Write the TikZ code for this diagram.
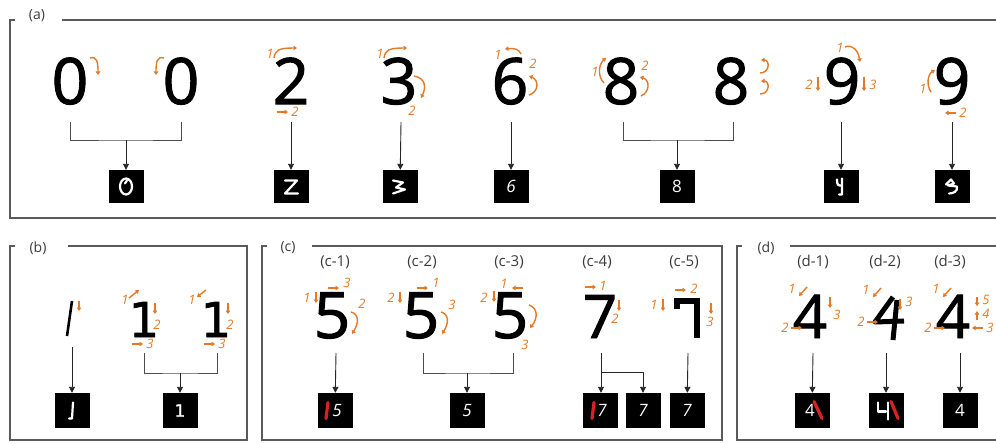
\documentclass[tikz,border=0pt]{standalone}
\usepackage{fontspec}
\setmainfont{Open Sans}
\newfontfamily\bigf{Open Sans}[FakeBold=1.6]
\newfontfamily\dejavu{DejaVu Sans}[FakeBold=1.2]
\usetikzlibrary{arrows.meta}
\definecolor{orc}{RGB}{228,122,40}
\definecolor{frm}{RGB}{90,90,90}
\definecolor{lbl}{RGB}{60,60,60}
\definecolor{hwred}{RGB}{215,35,35}
\begin{document}
\begin{tikzpicture}[x=1pt,y=-1pt,
 pframe/.style={draw=frm,line width=1.1pt},
 plab/.style={text=lbl,font=\fontsize{14}{14}\selectfont,inner sep=0},
 sublab/.style={text=lbl,font=\fontsize{15}{15}\selectfont,inner sep=0},
 big/.style={font=\bigf\fontsize{64}{64}\selectfont,anchor=base,inner sep=0,text height=44pt,text depth=0pt},
 conn/.style={draw=black!85,line width=0.9pt,-{Triangle[length=6pt,width=6pt]}},
 brk/.style={draw=black!70,line width=0.9pt},
 abox/.style={fill=black,minimum width=35pt,minimum height=33pt,inner sep=0,text=white,font=\fontsize{17}{17}\selectfont},
 lbox/.style={abox,minimum height=35pt},
 oa/.style={draw=orc,line width=1.4pt,-{Triangle[length=3.5pt,width=4.5pt]}},
 onum/.style={text=orc,font=\itshape\fontsize{13}{13}\selectfont,inner sep=0,text height=9pt,text depth=0pt},
 hw/.style={draw=white,line width=2.2pt,line cap=round,line join=round},
 rd/.style={draw=hwred,line width=3.2pt,line cap=round},
]
\useasboundingbox[fill=white] (0,0) rectangle (996,444);

% ---------- frames ----------
\draw[pframe] (15,20) -- (10,20) -- (10,218) -- (996,218);
\draw[pframe] (62,20) -- (996,20);
\node[plab] (la) at (37,16) {(a)};
\draw[pframe] (15,246) -- (10,246) -- (10,440) -- (247,440) -- (247,246) -- (68,246);
\node[plab] (lb) at (38,248) {(b)};
\draw[pframe] (267,246) -- (262,246) -- (262,440) -- (722,440) -- (722,246) -- (312,246);
\node[plab] (lc) at (288,248) {(c)};
\draw[pframe] (742,246) -- (737,246) -- (737,440) -- (996,440);
\draw[pframe] (790,246) -- (996,246);
\node[plab] (ld) at (766,248) {(d)};

% ---------- panel (a) ----------
\node[big] (d0a) at (70,104) {0};
\node[big] (d0b) at (181,104) {0};
\node[big] (d2) at (291,104) {2};
\node[big] (d3) at (399,104) {3};
\node[big] (d6) at (510,104) {6};
\node[big] (d8a) at (621,104) {8};
\node[big] (d8b) at (731,104) {8};
\node[big] (d9a) at (842,104) {9};
\node[big] (d9b) at (952,104) {9};

\node[abox] (b0) at (126,186.5) {};
\node[abox] (b2) at (291,186.5) {};
\node[abox] (b3) at (400,186.5) {};
\node[abox] (b6) at (511,186.5) {\itshape 6};
\node[abox] (b8) at (677,186.5) {8};
\node[abox] (b9a) at (841,186.5) {};
\node[abox] (b9b) at (952,186.5) {};
\draw[hw] (b0.center) ellipse [x radius=6, y radius=8];
\draw[hw] ([shift={(-1,-3)}]b0.center) -- ++(2,-3);
\draw[hw] ([shift={(-6,-6)}]b2.center) -- ++(12,0) -- ++(-12,13) -- ++(13,0);
\draw[hw] ([shift={(-7,-6)}]b3.center) -- ++(10,2) -- ++(-7,5) -- ++(9,2) -- ++(-12,4);
\draw[hw] ([shift={(-4,-7)}]b9a.center) .. controls ++(0,6) and ++(-4,0) .. ++(5,6) -- ++(0,-7) -- ++(0,16) -- ++(-3,0);
\draw[hw] ([shift={(-6,-2)}]b9b.center) -- ++(5,-5) -- ++(3,4) -- ++(-6,2) -- ++(9,1) .. controls ++(1,5) and ++(4,0) .. ++(-8,7);

\coordinate (j0a) at (70,122); \coordinate (j0b) at (181,122); \coordinate (m0) at (126,140);
\draw[brk] (j0a) |- (m0) -| (j0b);
\draw[conn] (m0) -- (b0);
\coordinate (s2) at (291,122); \draw[conn] (s2) -- (b2);
\coordinate (s3) at (401,122); \draw[conn] (s3) -- (b3);
\coordinate (s6) at (511,122); \draw[conn] (s6) -- (b6);
\coordinate (j8a) at (623,122); \coordinate (j8b) at (733,122); \coordinate (m8) at (677,140);
\draw[brk] (j8a) |- (m8) -| (j8b);
\draw[conn] (m8) -- (b8);
\coordinate (s9a) at (841,122); \draw[conn] (s9a) -- (b9a);
\coordinate (s9b) at (952,122); \draw[conn] (s9b) -- (b9b);

% orange strokes, panel (a)
\draw[oa] (90,58) .. controls (97,56) and (98,62) .. (98,75);
\draw[oa] (164,58) .. controls (157,56) and (156,62) .. (156,75);
\node[onum] (a2a) at (270,54) {1};
\draw[oa] (274,58) .. controls (275,50) and (279,48) .. (297,48);
\draw[oa] (277,112) -- (288,112);
\node[onum] (a2b) at (295,112) {2};
\node[onum] (a3a) at (380,54) {1};
\draw[oa] (384,58) .. controls (385,50) and (389,48) .. (407,48);
\draw[oa] (414,76) .. controls (426,78) and (426,88) .. (421,98);
\node[onum] (a3b) at (412,111) {2};
\node[onum] (a6a) at (498,55) {1};
\draw[oa] (521,54) .. controls (519,49) and (514,48) .. (505,49);
\node[onum] (a6b) at (533,64) {2};
\draw[oa] (529,95) .. controls (539,92) and (539,80) .. (529,76);
\node[onum] (a8a) at (595,72) {1};
\draw[oa] (604,83) .. controls (597,76) and (599,64) .. (606,58);
\node[onum] (a8b) at (645,66) {2};
\draw[oa] (641,96) .. controls (650,92) and (650,80) .. (640,77);
\draw[oa] (760,73) .. controls (770,73) and (770,60) .. (761,60);
\draw[oa] (760,94) .. controls (770,94) and (770,81) .. (761,81);
\node[onum] (a9a) at (840,48) {1};
\draw[oa] (845,47) .. controls (852,44) and (858,50) .. (860,62);
\node[onum] (a9b) at (809,85) {2};
\draw[oa] (818,77) -- (818,91);
\draw[oa] (864,77) -- (864,91);
\node[onum] (a9c) at (873,85) {3};
\node[onum] (a9d) at (923,89) {1};
\draw[oa] (931,92) .. controls (926,85) and (928,74) .. (935,70);
\draw[oa] (956,113) -- (945,113);
\node[onum] (a9e) at (963,113) {2};

% ---------- panel (b) ----------
\draw[line width=2.6pt] (72,301) -- (67,336);
\node[big,font=\dejavu\fontsize{48}{48}\selectfont,text height=35pt] (d1b) at (144,337) {1};
\node[big,font=\dejavu\fontsize{48}{48}\selectfont,text height=35pt] (d1c) at (216,337) {1};
\node[lbox] (bb1) at (72,410.5) {};
\node[lbox,font=\dejavu\fontsize{17}{17}\selectfont] (bb2) at (180,410.5) {1};
\draw[hw] ([shift={(1,-8)}]bb1.center) -- ++(-1,16) -- ++(-3,0);
\coordinate (sb1) at (72,347); \draw[conn] (sb1) -- (bb1);
\coordinate (jb1) at (144,353); \coordinate (jb2) at (217,353); \coordinate (mb) at (180,373);
\draw[brk] (jb1) |- (mb) -| (jb2);
\draw[conn] (mb) -- (bb2);
\draw[oa] (79,301) -- (79,311);
\node[onum] (b1a) at (125,300) {1};
\draw[oa] (129,298) -- (139,290);
\draw[oa] (155,303) -- (155,314);
\node[onum] (b1b) at (157,325) {2};
\draw[oa] (132,344) -- (143,344);
\node[onum] (b1c) at (150,344) {3};
\node[onum] (b1d) at (192,300) {1};
\draw[oa] (206,290) -- (197,297);
\draw[oa] (228,303) -- (228,314);
\node[onum] (b1e) at (230,325) {2};
\draw[oa] (204,344) -- (215,344);
\node[onum] (b1f) at (222,344) {3};

% ---------- panel (c) ----------
\node[sublab] (c1) at (335,262) {(c-1)};
\node[sublab] (c2) at (422,262) {(c-2)};
\node[sublab] (c3) at (509,262) {(c-3)};
\node[sublab] (c4) at (597,262) {(c-4)};
\node[sublab] (c5) at (684,262) {(c-5)};
\node[big] (d5a) at (332,338) {5};
\node[big] (d5b) at (421,338) {5};
\node[big] (d5c) at (510,338) {5};
\node[big,font=\bigf\fontsize{60}{60}\selectfont,text height=42pt] (d7a) at (600,338) {7};
\draw[line width=6.5pt] (677,309) -- (677,301) -- (697,301) -- (697,338);
\node[lbox] (cb1) at (335,410.5) {};
\node[lbox] (cb2) at (467,410.5) {\itshape 5};
\node[lbox] (cb3) at (600,410.5) {};
\node[lbox] (cb4) at (643,410.5) {\itshape 7};
\node[lbox] (cb5) at (687,410.5) {\itshape 7};
\draw[rd] ([shift={(-7,-8)}]cb1.center) -- ++(-2,16);
\node[text=white,font=\itshape\fontsize{17}{17}\selectfont,inner sep=0] (cb1t) at ([xshift=2pt]cb1.center) {5};
\draw[rd] ([shift={(-6,-8)}]cb3.center) -- ++(-2,16);
\node[text=white,font=\itshape\fontsize{17}{17}\selectfont,inner sep=0] (cb3t) at ([xshift=2pt]cb3.center) {7};
\coordinate (sc1) at (336,353); \draw[conn] (sc1) -- (cb1);
\coordinate (jc1) at (423,353); \coordinate (jc2) at (513,353); \coordinate (mc) at (467,373);
\draw[brk] (jc1) |- (mc) -| (jc2);
\draw[conn] (mc) -- (cb2);
\coordinate (sc4) at (601,353); \coordinate (kc4) at (601,372);
\draw[conn] (sc4) -- (cb3.north -| sc4);
\draw[conn] (kc4) -| (cb4);
\coordinate (sc5) at (688,353); \draw[conn] (sc5) -- (cb5);
% orange (c)
\node[onum] (o1a) at (307,298) {1};
\draw[oa] (316,292) -- (316,303);
\draw[oa] (328,288) -- (339,288);
\node[onum] (o1b) at (347,283) {3};
\node[onum] (o1c) at (362,304) {2};
\draw[oa] (351,312) .. controls (359,314) and (359,323) .. (352,334);
\node[onum] (o2a) at (391,298) {2};
\draw[oa] (400,292) -- (400,303);
\draw[oa] (417,288) -- (428,288);
\node[onum] (o2b) at (436,283) {1};
\node[onum] (o2c) at (452,305) {3};
\draw[oa] (441,312) .. controls (449,314) and (449,323) .. (442,334);
\node[onum] (o3a) at (484,298) {2};
\draw[oa] (494,291) -- (494,302);
\node[onum] (o3b) at (504,284) {1};
\draw[oa] (523,288) -- (512,288);
\draw[oa] (529,305) .. controls (538,308) and (538,318) .. (530,328);
\node[onum] (o3c) at (525,345) {3};
\draw[oa] (585,287) -- (596,287);
\node[onum] (o4a) at (603,286) {1};
\draw[oa] (619,300) -- (619,311);
\node[onum] (o4b) at (615,319) {2};
\node[onum] (o5a) at (654,305) {1};
\draw[oa] (663,299) -- (663,311);
\draw[oa] (675,290) -- (686,290);
\node[onum] (o5b) at (694,289) {2};
\draw[oa] (711,303) -- (711,314);
\node[onum] (o5c) at (710,322) {3};

% ---------- panel (d) ----------
\node[sublab] (e1) at (813,262) {(d-1)};
\node[sublab] (e2) at (885,262) {(d-2)};
\node[sublab] (e3) at (950,262) {(d-3)};
\node[big,font=\bigf\fontsize{60}{60}\selectfont,text height=42pt] (d4a) at (810,338) {4};
\draw[line width=5pt,line join=round] (893,297) -- (875,322) -- (904,321);
\draw[line width=5pt] (897,300) -- (893,340);
\node[big,font=\bigf\fontsize{60}{60}\selectfont,text height=42pt] (d4c) at (953,338) {4};
\node[lbox] (db1) at (812,410.5) {};
\node[lbox] (db2) at (886,410.5) {};
\node[lbox] (db3) at (960,410.5) {4};
\draw[rd] ([shift={(2,-9)}]db1.center) -- ++(8,17);
\node[text=white,font=\fontsize{17}{17}\selectfont,inner sep=0] (db1t) at ([xshift=-2pt]db1.center) {4};
\draw[hw] ([shift={(-8,-8)}]db2.center) -- ++(0,9) -- ++(8,0);
\draw[hw] ([shift={(2,-8)}]db2.center) -- ++(0,17);
\draw[rd] ([shift={(5,-9)}]db2.center) -- ++(7,17);
\coordinate (sd1) at (813,353); \draw[conn] (sd1) -- (db1);
\coordinate (sd2) at (886,353); \draw[conn] (sd2) -- (db2);
\coordinate (sd3) at (960,353); \draw[conn] (sd3) -- (db3);
% orange (d)
\node[onum] (p1a) at (792,289) {1};
\draw[oa] (807,287) -- (799,296);
\draw[oa] (830,297) -- (830,308);
\node[onum] (p1b) at (837,315) {3};
\node[onum] (p1c) at (785,328) {2};
\draw[oa] (791,328) -- (802,328);
\node[onum] (p2a) at (866,290) {1};
\draw[oa] (881,288) -- (873,297);
\draw[oa] (900,299) -- (900,310);
\node[onum] (p2b) at (909,302) {3};
\node[onum] (p2c) at (861,322) {2};
\draw[oa] (867,322) -- (878,322);
\node[onum] (p3a) at (936,289) {1};
\draw[oa] (951,288) -- (943,297);
\draw[oa] (977,297) -- (977,306);
\node[onum] (p3b) at (986,300) {5};
\draw[oa] (977,320) -- (977,311);
\node[onum] (p3c) at (986,314) {4};
\draw[oa] (983,328) -- (972,328);
\node[onum] (p3d) at (990,328) {3};
\node[onum] (p3e) at (928,328) {2};
\draw[oa] (934,328) -- (945,328);
\end{tikzpicture}
\end{document}
